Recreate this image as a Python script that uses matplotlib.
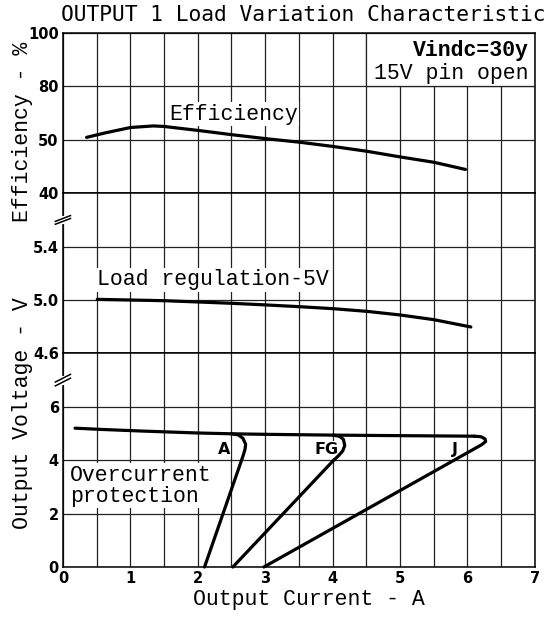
import numpy as np
import matplotlib
matplotlib.use("Agg")
import matplotlib.pyplot as plt
from matplotlib.patches import Rectangle

# ── data ─────────────────────────────────────────────────────────────────────
eff_i = [0.35, 0.61, 1.0, 1.34, 1.5, 2.01, 2.51, 3.02, 3.51, 4.01, 4.51, 5.0, 5.5, 5.97]
eff_pct = [60.9, 62.5, 64.6, 65.2, 65.0, 63.5, 61.9, 60.4, 59.1, 57.5, 55.7, 53.6, 51.6, 48.9]

reg_i = [0.51, 1.5, 2.02, 2.52, 3.02, 3.51, 4.01, 4.51, 5.0, 5.5, 6.05]
reg_v = [5.005, 4.995, 4.985, 4.975, 4.963, 4.95, 4.935, 4.915, 4.888, 4.853, 4.798]

main_i = [0.18, 0.6, 1.2, 2.0, 2.5, 3.0, 4.0, 5.0, 6.1]
main_v = [5.2, 5.15, 5.09, 5.02, 4.99, 4.97, 4.94, 4.92, 4.9]

ocp_a_i = [2.5, 2.6, 2.67, 2.71, 2.7, 2.67, 2.1]
ocp_a_v = [4.99, 4.95, 4.82, 4.6, 4.4, 4.15, 0.0]
ocp_fg_i = [4.0, 4.1, 4.16, 4.18, 4.15, 4.08, 4.0, 2.52]
ocp_fg_v = [4.94, 4.9, 4.78, 4.55, 4.35, 4.15, 3.96, 0.0]
ocp_j_i = [6.1, 6.2, 6.26, 6.27, 6.21, 2.98]
ocp_j_v = [4.9, 4.88, 4.8, 4.7, 4.58, 0.0]

eff_ticks = [40, 60, 80, 100]
eff_ticklabels = ["40", "50", "80", "100"]
reg_ticks = [4.6, 5.0, 5.4]
reg_ticklabels = ["4.6", "5.0", "5.4"]
ocp_ticks = [0, 2, 4, 6]
x_ticks = [0, 1, 2, 3, 4, 5, 6, 7]

MONO = "Liberation Mono"
FS = 15.5
LW = 2.3
GRID = dict(color="#222222", linewidth=0.9)
WHITE = dict(facecolor="white", edgecolor="none", pad=1)

fig = plt.figure(figsize=(5.52, 6.17), dpi=100)
gs = fig.add_gridspec(3, 1, height_ratios=[3, 3, 4], hspace=0,
                      left=0.114, right=0.969, top=0.9465, bottom=0.081)
ax_e = fig.add_subplot(gs[0])
ax_r = fig.add_subplot(gs[1], sharex=ax_e)
ax_o = fig.add_subplot(gs[2], sharex=ax_e)

for ax in (ax_e, ax_r, ax_o):
    ax.set_xlim(0, 7)
    ax.set_xticks(x_ticks)
    ax.set_xticks(np.arange(0.5, 7, 1.0), minor=True)
    ax.grid(True, which="both", axis="x", **GRID)
    ax.grid(True, which="major", axis="y", **GRID)
    ax.set_axisbelow(True)
    ax.tick_params(which="both", length=0, pad=3)
    for s in ax.spines.values():
        s.set_linewidth(1.1)

# efficiency panel
ax_e.set_ylim(40, 100)
ax_e.set_yticks(eff_ticks)
ax_e.set_yticklabels(eff_ticklabels, fontweight="bold", fontsize=10.5)
ax_e.plot(eff_i, eff_pct, color="black", lw=LW, solid_capstyle="round", zorder=3)
ax_e.add_patch(Rectangle((4.5, 80), 2.5, 20, facecolor="white", edgecolor="#222222",
                         linewidth=0.9, zorder=1))
ax_e.text(6.91, 93.3, "Vindc=30y", family=MONO, fontsize=FS, fontweight="bold",
          ha="right", va="center", zorder=4)
ax_e.text(6.91, 84.8, "15V pin open", family=MONO, fontsize=FS,
          ha="right", va="center", zorder=4)
ax_e.text(1.57, 69.6, "Efficiency", family=MONO, fontsize=FS, ha="left", va="center",
          bbox=WHITE, zorder=2)

# 5V load regulation panel
ax_r.set_ylim(4.6, 5.8)
ax_r.set_yticks(reg_ticks)
ax_r.set_yticklabels(reg_ticklabels, fontweight="bold", fontsize=10.5)
ax_r.plot(reg_i, reg_v, color="black", lw=LW, solid_capstyle="round", zorder=3)
ax_r.text(0.5, 5.15, "Load regulation-5V", family=MONO, fontsize=FS, ha="left",
          va="center", bbox=WHITE, zorder=2)

# overcurrent panel
ax_o.set_ylim(0, 8)
ax_o.set_yticks(ocp_ticks)
ax_o.set_yticklabels([str(t) for t in ocp_ticks], fontweight="bold", fontsize=10.5)
ax_o.set_xticklabels([str(t) for t in x_ticks], fontweight="bold", fontsize=10.5)
for xs, ys in [(main_i, main_v), (ocp_a_i, ocp_a_v), (ocp_fg_i, ocp_fg_v), (ocp_j_i, ocp_j_v)]:
    ax_o.plot(xs, ys, color="black", lw=LW, solid_capstyle="round",
              solid_joinstyle="round", zorder=3, clip_on=False)
for txt, x in [("A", 2.39), ("FG", 3.91), ("J", 5.82)]:
    ax_o.text(x, 4.4, txt, fontsize=11.5, fontweight="bold", ha="center", va="center",
              bbox=dict(facecolor="white", edgecolor="none", pad=0.5), zorder=2)
ax_o.text(0.1, 3.05, "Overcurrent\nprotection", family=MONO, fontsize=FS, ha="left",
          va="center", linespacing=1.0, bbox=WHITE, zorder=2)

plt.setp(ax_e.get_xticklabels(), visible=False)
plt.setp(ax_r.get_xticklabels(), visible=False)

# axis break marks on the left spine
for ax, frac in [(ax_r, 5 / 6), (ax_o, 7 / 8)]:
    ax.plot([0, 0], [frac - 0.012, frac + 0.012], transform=ax.transAxes,
            color="white", lw=3, clip_on=False, zorder=5)
    for d in (-0.009, 0.009):
        ax.plot([-0.016, 0.016], [frac + d - 0.018, frac + d + 0.018],
                transform=ax.transAxes, color="black", lw=1.1, clip_on=False, zorder=6)

fig.text(0.549, 0.976, "OUTPUT 1 Load Variation Characteristic", family="DejaVu Sans Mono",
         fontsize=15.3, ha="center", va="center")
fig.text(0.56, 0.028, "Output Current - A", family=MONO, fontsize=FS,
         ha="center", va="center")
fig.text(0.04, 0.786, "Efficiency - %", family=MONO, fontsize=FS, rotation=90,
         ha="center", va="center")
fig.text(0.04, 0.331, "Output Voltage - V", family=MONO, fontsize=FS, rotation=90,
         ha="center", va="center")

fig.savefig("out.png", dpi=100)
